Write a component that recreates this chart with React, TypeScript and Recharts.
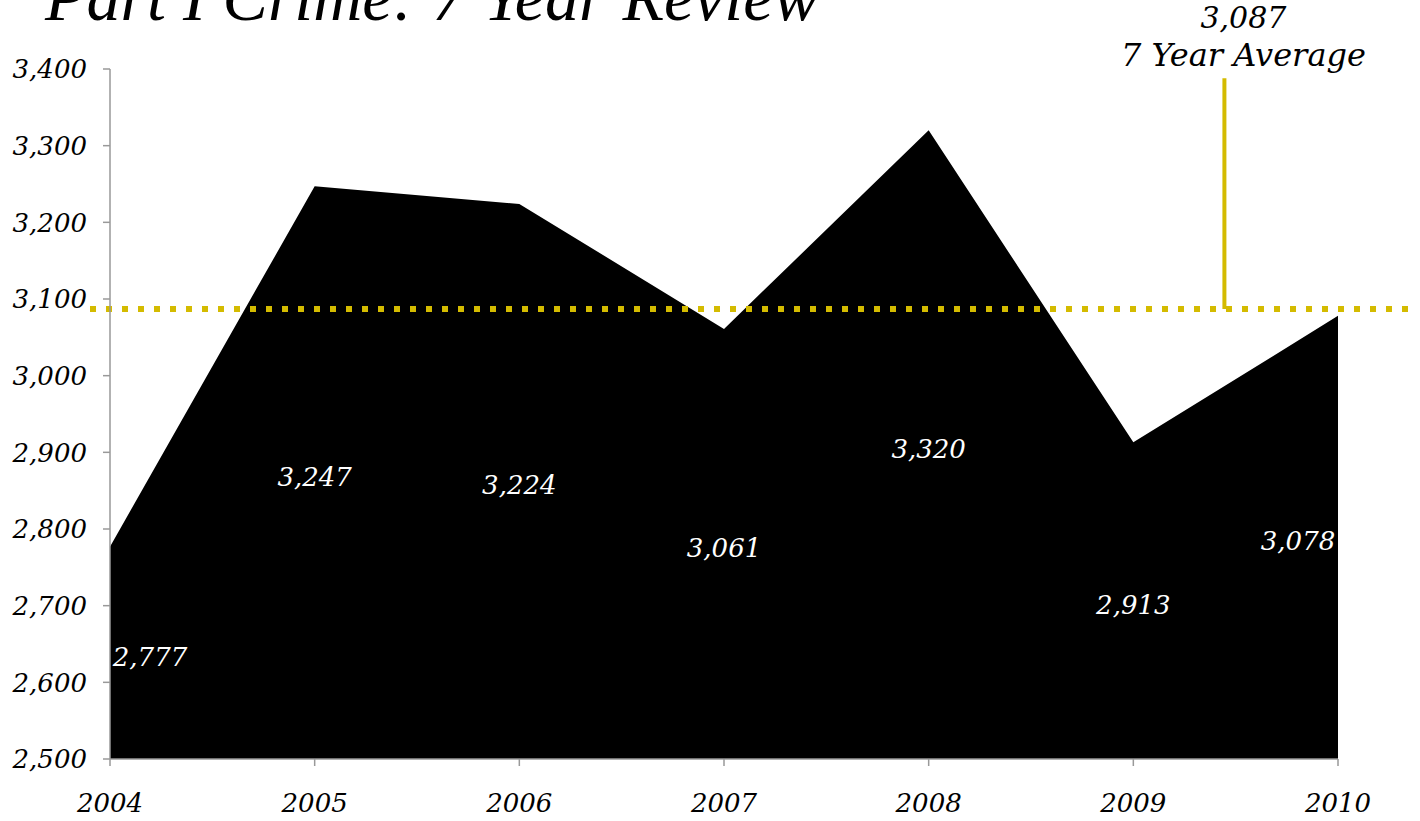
import React from "react";
import { ComposedChart, Area, Line, XAxis, YAxis, ReferenceLine, LabelList } from "recharts";

const years = [2004, 2005, 2006, 2007, 2008, 2009, 2010];
const crimes = [2777, 3247, 3224, 3061, 3320, 2913, 3078];
const yTicks = [2500, 2600, 2700, 2800, 2900, 3000, 3100, 3200, 3300, 3400];
const average = 3087;
const averageLabel = "7 Year Average";
const title = "Part I Crime: 7 Year Review";
const calloutX = 2009.445;
const calloutTop = 3388;

const Y_MIN = 2500;
const Y_MAX = 3400;
const data = years.map((y, i) => ({ year: y, value: crimes[i], mid: (crimes[i] + Y_MIN) / 2 }));

const GOLD = "#D4BB00";
const FONT = "'DejaVu Serif', serif";
const fmt = (v: number) => v.toLocaleString("en-US");

const DataLabel = (props: any) => {
  const { x, y, index } = props;
  let dx = 0;
  if (index === 0) dx = 40;
  if (index === years.length - 1) dx = -40;
  return (
    <text x={x + dx} y={y + 4} fill="#fff" fontFamily={FONT} fontStyle="italic" fontSize={26} textAnchor="middle" dominantBaseline="central">
      {fmt(crimes[index])}
    </text>
  );
};

const AvgLine = (props: any) => {
  const { x1, y1, x2, y2 } = props;
  return <line x1={x1 - 20} y1={y1} x2={x2 + 72} y2={y2} stroke={GOLD} strokeWidth={6} strokeDasharray="6 10" />;
};

const CalloutLabel = (props: any) => {
  const vb = props.viewBox || {};
  const cx = vb.x + 19;
  return (
    <g>
      <text x={cx} y={vb.y - 50} textAnchor="middle" fontFamily={FONT} fontStyle="italic" fontSize={30} fill="#000">{fmt(average)}</text>
      <text x={cx} y={vb.y - 12} textAnchor="middle" fontFamily={FONT} fontStyle="italic" fontSize={32} fill="#000">{averageLabel}</text>
    </g>
  );
};

export default function App() {
  return (
    <div style={{ position: "absolute", left: 0, top: 0, width: 1420, height: 821, background: "#fff", overflow: "hidden" }}>
      <div style={{ position: "absolute", left: 45, top: -37, width: 900, fontFamily: "'Liberation Serif', serif", fontStyle: "italic", fontSize: 68, lineHeight: "68px", whiteSpace: "nowrap", color: "#000" }}>
        {title}
      </div>
      <ComposedChart width={1420} height={821} data={data} margin={{ top: 69, right: 82, bottom: 0, left: 0 }}>
        <XAxis
          dataKey="year"
          type="number"
          domain={[2004, 2010]}
          ticks={years}
          height={62}
          axisLine={{ stroke: "#999", strokeWidth: 1.5 }}
          tickLine={{ stroke: "#999", strokeWidth: 1.5 }}
          tickSize={7}
          tickMargin={28}
          tick={{ fill: "#000", fontFamily: FONT, fontStyle: "italic", fontSize: 26 }}
        />
        <YAxis
          domain={[Y_MIN, Y_MAX]}
          ticks={yTicks}
          width={110}
          axisLine={{ stroke: "#999", strokeWidth: 1.5 }}
          tickLine={{ stroke: "#999", strokeWidth: 1.5 }}
          tickSize={7}
          tickMargin={16}
          tickFormatter={fmt}
          tick={{ fill: "#000", fontFamily: FONT, fontStyle: "italic", fontSize: 26 }}
        />
        <Area type="linear" dataKey="value" fill="#000" fillOpacity={1} stroke="none" isAnimationActive={false} />
        <Line type="linear" dataKey="mid" stroke="none" dot={false} activeDot={false} isAnimationActive={false}>
          <LabelList dataKey="mid" content={DataLabel} />
        </Line>
        <ReferenceLine y={average} shape={AvgLine} ifOverflow="visible" />
        <ReferenceLine
          segment={[{ x: calloutX, y: average }, { x: calloutX, y: calloutTop }]}
          stroke={GOLD}
          strokeWidth={4}
          ifOverflow="visible"
          label={CalloutLabel}
        />
      </ComposedChart>
    </div>
  );
}
